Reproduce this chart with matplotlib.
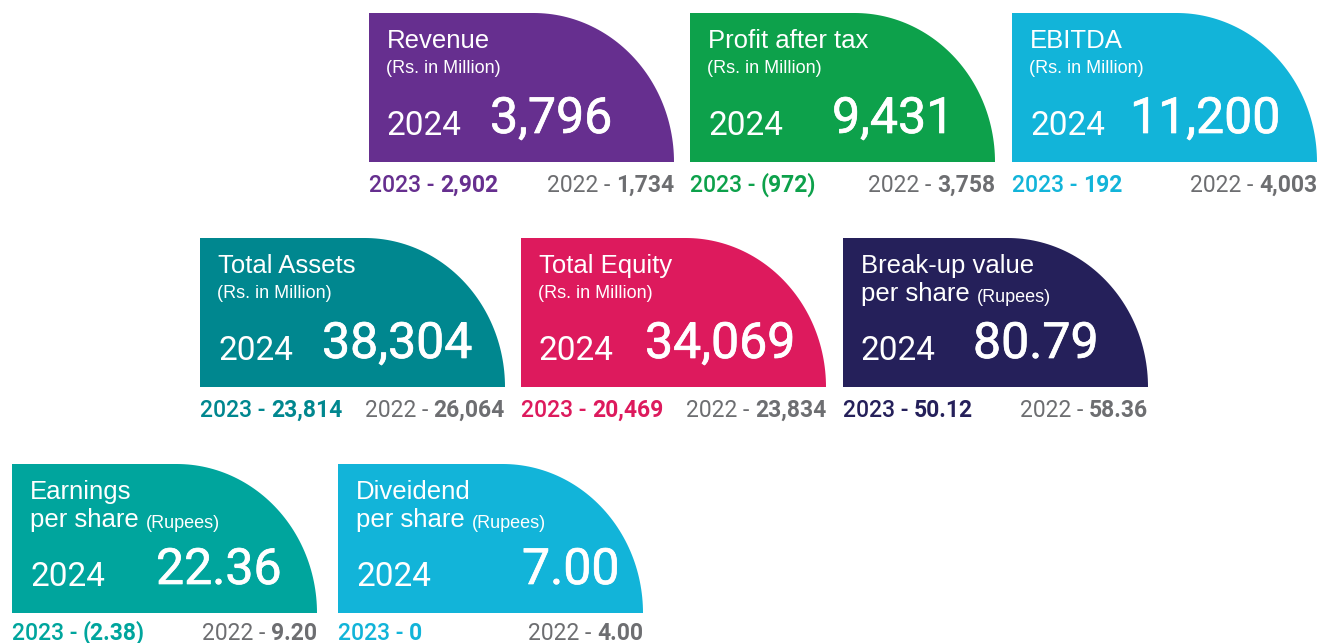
import numpy as np
import matplotlib.pyplot as plt
import matplotlib.patheffects as pe
from matplotlib.path import Path
from matplotlib.patches import PathPatch

# ---- data ----
titles = ["Revenue", "Profit after tax", "EBITDA",
          "Total Assets", "Total Equity", "Break-up value\nper share",
          "Earnings\nper share", "Diveidend\nper share"]
units = ["(Rs. in Million)", "(Rs. in Million)", "(Rs. in Million)",
         "(Rs. in Million)", "(Rs. in Million)", "(Rupees)",
         "(Rupees)", "(Rupees)"]
values_2024 = ["3,796", "9,431", "11,200", "38,304", "34,069", "80.79", "22.36", "7.00"]
values_2023 = ["2,902", "(972)", "192", "23,814", "20,469", "50.12", "(2.38)", "0"]
values_2022 = ["1,734", "3,758", "4,003", "26,064", "23,834", "58.36", "9.20", "4.00"]

# ---- layout / style ----
colors = ["#662F8F", "#0DA14B", "#12B4D9", "#00878F", "#DD1A5D", "#25205A", "#00A59D", "#12B4D9"]
card_left = [369, 690, 1012, 200, 521, 843, 12, 338]
card_top = [13, 13, 13, 238, 238, 238, 464, 464]
bottom_gap = [30, 30, 30, 30, 30, 30, 27, 27]
card_w = 305
card_h = 149
big_dx = [121, 142, 118, 122, 124, 130, 144, 184]
GRAY = "#6D6E71"
TITLE_FONT = ["Liberation Sans", "DejaVu Sans"]
NUM_FONT = ["Roboto", "DejaVu Sans"]
big_fx = [pe.withStroke(linewidth=0.5, foreground="white")]

fig = plt.figure(figsize=(13.22, 6.43), dpi=100)
ax = fig.add_axes([0, 0, 1, 1])
ax.set_xlim(0, 1322)
ax.set_ylim(643, 0)
ax.axis("off")


def card_path(x0, y0, w, h):
    rx = 0.46 * w
    ry = h
    cx = x0 + w - rx
    t = np.linspace(np.pi / 2, 0, 60)
    arc_x = cx + rx * np.cos(t)
    arc_y = (y0 + h) - ry * np.sin(t)
    xs = [x0, x0, cx] + list(arc_x) + [x0 + w, x0]
    ys = [y0 + h, y0, y0] + list(arc_y) + [y0 + h, y0 + h]
    verts = list(zip(xs, ys))
    codes = [Path.MOVETO] + [Path.LINETO] * (len(verts) - 2) + [Path.CLOSEPOLY]
    return Path(verts, codes)


for i in range(len(titles)):
    x0, y0, c = card_left[i], card_top[i], colors[i]
    ax.add_patch(PathPatch(card_path(x0, y0, card_w, card_h), facecolor=c, edgecolor="none"))

    lines = titles[i].split("\n")
    ax.text(x0 + 18, y0 + 35, lines[0], color="white", fontsize=18.5,
            family=TITLE_FONT, va="baseline", ha="left")
    if len(lines) == 1:
        ax.text(x0 + 17, y0 + 60, units[i], color="white", fontsize=13,
                family=TITLE_FONT, va="baseline", ha="left")
    else:
        t2 = ax.text(x0 + 18, y0 + 63, lines[1] + " ", color="white", fontsize=18.5,
                     family=TITLE_FONT, va="baseline", ha="left")
        ax.annotate(units[i], xy=(1, 0), xycoords=t2, color="white", fontsize=13,
                    family=TITLE_FONT, va="bottom", ha="left")

    ax.text(x0 + 18, y0 + 122, "2024", color="white", fontsize=24,
            family=NUM_FONT, va="baseline", ha="left")
    ax.text(x0 + big_dx[i], y0 + 120, values_2024[i], color="white", fontsize=36,
            family=NUM_FONT, va="baseline", ha="left", path_effects=big_fx)

    yb = y0 + card_h + bottom_gap[i]
    t3 = ax.text(x0, yb, "2023 - ", color=c, fontsize=16.5, family=NUM_FONT,
                 weight="medium", va="baseline", ha="left")
    ax.annotate(values_2023[i], xy=(1, 0), xycoords=t3, color=c, fontsize=16.5,
                family=NUM_FONT, weight="bold", va="bottom", ha="left")
    t4 = ax.text(x0 + card_w, yb, values_2022[i], color=GRAY, fontsize=16.5,
                 family=NUM_FONT, weight="bold", va="baseline", ha="right")
    ax.annotate("2022 - ", xy=(0, 0), xycoords=t4, color=GRAY, fontsize=16.5,
                family=NUM_FONT, weight="normal", va="bottom", ha="right")

fig.savefig("out.png", dpi=100, facecolor="white")
